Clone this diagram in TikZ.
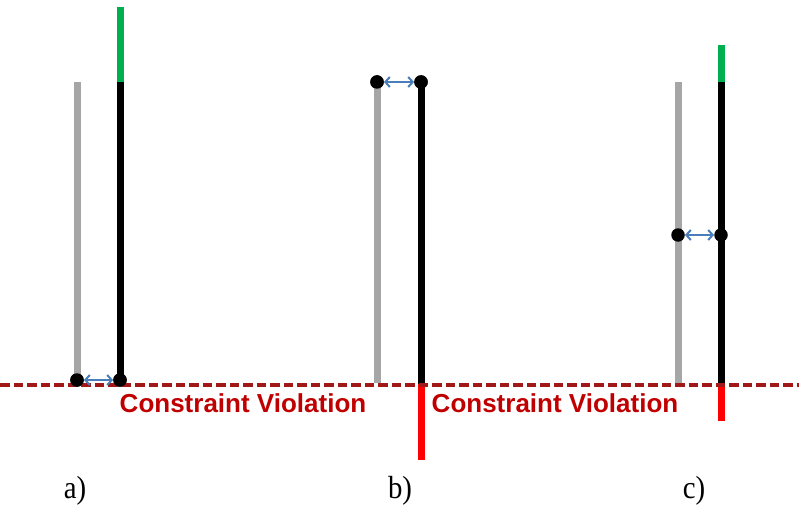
\documentclass[tikz,border=0pt]{standalone}
\usepackage{fontspec}
\setmainfont{Liberation Serif}
\setsansfont{Liberation Sans}
\usetikzlibrary{arrows.meta}
\definecolor{gbar}{HTML}{A6A6A6}
\definecolor{greenbar}{HTML}{00B050}
\definecolor{redbar}{HTML}{FF0000}
\definecolor{cvred}{HTML}{C00000}
\definecolor{dashred}{HTML}{A01818}
\definecolor{arrblue}{HTML}{4A7EBB}
\tikzset{
  graybar/.style={draw=gbar,line width=7pt},
  blackbar/.style={draw=black,line width=7pt},
  grnbar/.style={draw=greenbar,line width=7pt},
  rdbar/.style={draw=redbar,line width=7pt},
  dotnode/.style={circle,fill=black,inner sep=0pt,minimum size=13.5pt},
  gaparrow/.style={draw=arrblue,line width=2pt,{Straight Barb[length=4.5pt,width=10pt]}-{Straight Barb[length=4.5pt,width=10pt]}},
  cvtext/.style={text=cvred,font=\sffamily\bfseries\fontsize{26}{30}\selectfont,inner sep=0pt,anchor=base},
  lbl/.style={font=\fontsize{32}{36}\selectfont,inner sep=0pt,anchor=base,xscale=0.9},
  cline/.style={draw=dashred,line width=3.2pt,dash pattern=on 9.5pt off 4pt}
}
\begin{document}
\begin{tikzpicture}[x=1pt,y=-1pt]
\useasboundingbox (0,0) rectangle (799,505);
% constraint line
\coordinate (cl) at (0,385);
\coordinate (cr) at (799,385);
% panel a
\coordinate (agt) at (77,82);
\coordinate (abt) at (120,82);
\coordinate (agrt) at (120,7);
\node[dotnode] (ad1) at (77,380) {};
\node[dotnode] (ad2) at (120,380) {};
\draw[graybar] (agt) -- (ad1.center);
\draw[blackbar] (abt) -- (ad2.center);
\draw[grnbar] (agrt) -- (abt);
% panel b
\node[dotnode] (bd1) at (377,82) {};
\node[dotnode] (bd2) at (421,82) {};
\coordinate (bgb) at (377,383);
\coordinate (bbb) at (421,384);
\coordinate (brb) at (421,460);
\draw[graybar] (bd1.center) -- (bgb);
\draw[blackbar] (bd2.center) -- (bbb);
\draw[rdbar] (bbb) -- (brb);
% panel c
\coordinate (cgt) at (678,82);
\coordinate (cgb) at (678,383);
\coordinate (cbt) at (721,82);
\coordinate (cbb) at (721,384);
\coordinate (cgrt) at (721,45);
\coordinate (crb) at (721,421);
\draw[graybar] (cgt) -- (cgb);
\draw[blackbar] (cbt) -- (cbb);
\draw[grnbar] (cgrt) -- (cbt);
\draw[rdbar] (cbb) -- (crb);
\node[dotnode] (cd1) at (678,235) {};
\node[dotnode] (cd2) at (721,235) {};
% dashed constraint line
\draw[cline] (cl) -- (cr);
% re-draw dots over line
\node[dotnode] at (ad1) {};
\node[dotnode] at (ad2) {};
\node[dotnode] at (bd1) {};
\node[dotnode] at (bd2) {};
% arrows
\draw[gaparrow] (ad1) -- (ad2);
\draw[gaparrow] (bd1) -- (bd2);
\draw[gaparrow] (cd1) -- (cd2);
% texts
\node[cvtext] (cv1) at (243,412) {Constraint Violation};
\node[cvtext] (cv2) at (555,412) {Constraint Violation};
\node[lbl] (la) at (75,498) {a)};
\node[lbl] (lb) at (400,498) {b)};
\node[lbl] (lc) at (694,498) {c)};
\end{tikzpicture}
\end{document}
